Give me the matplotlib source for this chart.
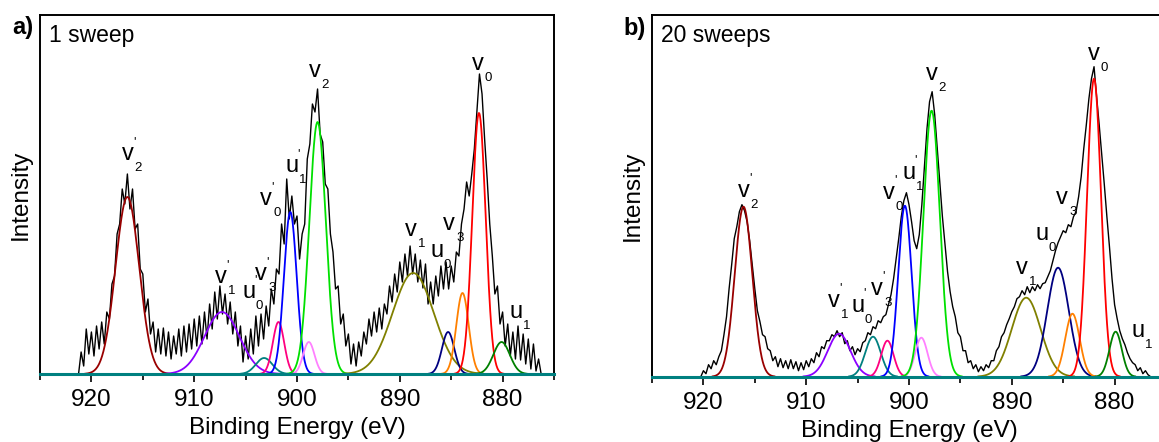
import numpy as np
import matplotlib
matplotlib.use("Agg")
import matplotlib.pyplot as plt

plt.rcParams['font.family'] = ['Liberation Sans', 'DejaVu Sans']

# ---------------- data ----------------
comp_colors = ['#990000', '#8B00FF', '#008080', '#FF0080', '#0000FF', '#FF80FF',
               '#00E000', '#808000', '#000080', '#FF8000', '#FF0000', '#008000']

# panel a (1 sweep) fitted component peaks: centre (eV), height, sigma (eV)
a_centers = [916.5, 907.3, 903.2, 901.8, 900.65, 898.85, 898.0, 888.7, 885.3, 883.9, 882.3, 880.1]
a_heights = [177, 62, 16, 52, 162, 32, 252, 101, 42, 81, 261, 32]
a_sigmas = [1.15, 1.7, 0.8, 0.55, 0.62, 0.55, 0.8, 2.0, 0.6, 0.6, 0.65, 0.8]

# panel b (20 sweeps)
b_centers = [916.1, 906.8, 903.5, 902.1, 900.4, 898.8, 897.8, 888.6, 885.5, 884.1, 882.0, 879.9]
b_heights = [170, 43, 40, 36, 171, 39, 266, 79, 109, 63, 298, 45]
b_sigmas = [0.85, 1.1, 0.75, 0.6, 0.65, 0.6, 0.8, 1.4, 1.05, 0.7, 0.68, 0.6]

a_exp_ev = np.arange(921.25, 876.0, -0.25)
a_exp_int = [0, 22, 8, 45, 20, 42, 18, 48,
             25, 52, 30, 62, 55, 90, 98, 140,
             150, 185, 170, 200, 165, 185, 145, 150,
             105, 100, 62, 75, 40, 52, 22, 45,
             20, 46, 18, 42, 15, 38, 20, 45,
             18, 48, 22, 50, 25, 55, 28, 58,
             30, 62, 35, 70, 45, 82, 55, 88,
             60, 80, 50, 72, 40, 62, 28, 48,
             12, 38, 15, 45, 20, 58, 28, 60,
             35, 68, 48, 85, 70, 105, 100, 150,
             130, 195, 155, 178, 150, 158, 115, 140,
             150, 215, 230, 270, 262, 285, 240, 232,
             190, 185, 140, 122, 85, 88, 50, 60,
             28, 40, 10, 30, 8, 32, 18, 42,
             30, 55, 38, 62, 42, 66, 45, 70,
             60, 88, 72, 100, 82, 112, 92, 120,
             98, 128, 100, 120, 92, 114, 86, 110,
             70, 92, 70, 98, 78, 108, 85, 112,
             85, 108, 92, 122, 118, 150, 165, 192,
             178, 200, 225, 262, 300, 280, 235, 195,
             150, 118, 80, 88, 50, 62, 28, 50,
             18, 42, 15, 48, 14, 40, 10, 35,
             5, 30, 3, 15, 0]

b_exp_ev = np.arange(920.25, 876.25, -0.25)
b_exp_int = [0, 6, 3, 12, 8, 16, 12, 20,
             26, 42, 60, 88, 112, 138, 150, 165,
             172, 166, 155, 136, 112, 88, 66, 55,
             42, 40, 28, 26, 16, 20, 10, 18,
             9, 16, 8, 17, 8, 15, 6, 14,
             7, 16, 10, 18, 14, 24, 20, 30,
             28, 36, 36, 42, 40, 46, 40, 44,
             33, 36, 26, 30, 22, 28, 25, 34,
             36, 44, 42, 50, 48, 56, 54, 60,
             62, 72, 82, 98, 118, 138, 160, 176,
             184, 172, 155, 136, 128, 142, 172, 210,
             248, 275, 285, 262, 228, 195, 160, 132,
             105, 85, 70, 60, 44, 40, 26, 26,
             14, 16, 8, 12, 5, 10, 6, 12,
             9, 16, 16, 26, 30, 40, 44, 52,
             58, 65, 70, 78, 80, 86, 82, 90,
             84, 90, 86, 92, 88, 93, 94, 100,
             106, 116, 126, 134, 140, 146, 144, 152,
             150, 160, 165, 180, 200, 228, 252, 278,
             298, 310, 280, 252, 222, 192, 160, 130,
             98, 72, 58, 46, 38, 32, 24, 18,
             14, 12, 6, 9, 3, 6, 2, 0]

# peak labels: (eV, height, letter, subscript, primed)
a_labels = [(916.5, 214, 'v', '2', True), (907.4, 91, 'v', '1', True), (904.7, 76, 'u', '0', True),
            (903.5, 94, 'v', '3', True), (903.0, 169, 'v', '0', True), (900.5, 202, 'u', '1', True),
            (898.3, 297, 'v', '2', False), (888.9, 138, 'v', '1', False), (886.4, 117, 'u', '0', False),
            (885.2, 144, 'v', '3', False), (882.4, 304, 'v', '0', False), (878.7, 56, 'u', '1', False)]
b_labels = [(916.1, 180, 'v', '2', True), (907.3, 70, 'v', '1', True), (905.0, 65, 'u', '0', True),
            (903.1, 82, 'v', '3', True), (902.0, 178, 'v', '0', True), (900.0, 198, 'u', '1', True),
            (897.8, 297, 'v', '2', False), (889.0, 103, 'v', '1', False), (887.1, 137, 'u', '0', False),
            (885.1, 173, 'v', '3', False), (882.0, 317, 'v', '0', False), (877.7, 40, 'u', '1', False)]

xticks = [920, 910, 900, 890, 880]

# ---------------- drawing ----------------
W, H = 1159, 442
fig = plt.figure(figsize=(W / 100, H / 100), dpi=100)

def make_axes(left, right, top, bottom):
    return fig.add_axes([left / W, 1 - bottom / H, (right - left) / W, (bottom - top) / H])

ax_a = make_axes(40, 554, 14.7, 374)
ax_b = make_axes(652, 1166, 15, 376.7)

FS = 17.5

def draw_panel(ax, exp_ev, exp_int, centers, heights, sigmas, labels, ymax, tag, title):
    ax.plot(exp_ev, exp_int, color='black', lw=1.0, zorder=2)
    grid = np.linspace(925, 875, 1500)
    for c, h, s, col in zip(centers, heights, sigmas, comp_colors):
        g = h * np.exp(-0.5 * ((grid - c) / s) ** 2)
        m = g > 0.3
        ax.plot(grid[m], g[m], color=col, lw=1.3, zorder=3)
    ax.axhline(0, color='#008080', lw=2.2, zorder=4, clip_on=False)
    ax.set_xlim(925, 875)
    ax.set_ylim(0, ymax)
    ax.set_xticks(xticks)
    ax.set_xticks([915, 905, 895, 885, 875, 925], minor=True)
    ax.tick_params(axis='x', which='major', direction='out', length=6, width=1.2,
                   labelsize=FS, pad=5)
    ax.tick_params(axis='x', which='minor', direction='out', length=4, width=1.2)
    ax.set_yticks([])
    for sp in ax.spines.values():
        sp.set_linewidth(1.4)
    ax.set_xlabel('Binding Energy (eV)', fontsize=FS, labelpad=4)
    ax.set_ylabel('Intensity', fontsize=FS, labelpad=6)
    ax.text(0.018, 0.975, title, transform=ax.transAxes, fontsize=FS - 1, ha='left', va='top')
    ax.text(-0.013, 0.995, tag, transform=ax.transAxes, fontsize=FS - 0.5, fontweight='bold',
            ha='right', va='top')
    for (x, y, letter, sub, primed) in labels:
        ax.text(x, y, letter, fontsize=FS - 0.5, ha='center', va='baseline', zorder=5)
        ax.annotate(sub, xy=(x, y), xytext=(5.0, -1.5), textcoords='offset points',
                    fontsize=9.5, ha='left', va='top', zorder=5)
        if primed:
            ax.annotate("'", xy=(x, y), xytext=(4.0, 11.0), textcoords='offset points',
                        fontsize=9, ha='left', va='baseline', zorder=5)

draw_panel(ax_a, a_exp_ev, a_exp_int, a_centers, a_heights, a_sigmas, a_labels, 359.3, 'a)', '1 sweep')
draw_panel(ax_b, b_exp_ev, b_exp_int, b_centers, b_heights, b_sigmas, b_labels, 361.7, 'b)', '20 sweeps')

fig.savefig('out.png', dpi=100)
